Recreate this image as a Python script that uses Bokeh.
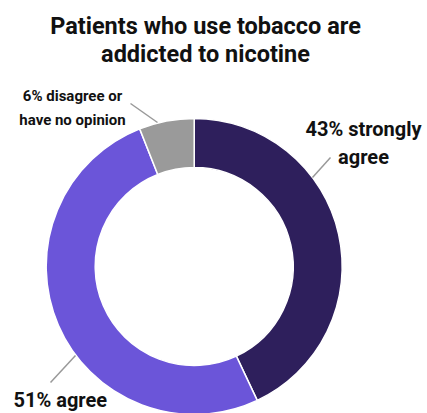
import math
from bokeh.plotting import figure
from bokeh.models import Range1d, ColumnDataSource
from bokeh.core.properties import value
from bokeh.embed import file_html
from bokeh.resources import INLINE

# ---- data ----
categories = ["strongly agree", "agree", "disagree or no opinion"]
shares = [43, 51, 6]
colors = ["#2e1f5c", "#6b55d9", "#9a9a9a"]
label_lines = [["43% strongly", "agree"], ["51% agree"], ["6% disagree or", "have no opinion"]]
title_lines = ["Patients who use tobacco are", "addicted to nicotine"]

W, H = 427, 413
p = figure(width=W, height=H, output_backend="svg", toolbar_location=None,
           x_range=Range1d(0, W), y_range=Range1d(0, H), min_border=0)
p.axis.visible = False
p.grid.visible = False
p.outline_line_color = None
p.background_fill_color = "white"

cx, cy = 193.7, H - 266
r_out, r_in = 148, 99

total = float(sum(shares))
starts, ends = [], []
cum = 0.0
for s in shares:
    a0 = math.pi / 2 - 2 * math.pi * (cum + s) / total
    a1 = math.pi / 2 - 2 * math.pi * cum / total
    starts.append(a0)
    ends.append(a1)
    cum += s

src = ColumnDataSource(dict(x=[cx] * 3, y=[cy] * 3, start=starts, end=ends, color=colors, cat=categories))
p.annular_wedge(x="x", y="y", inner_radius=r_in, outer_radius=r_out,
                start_angle="start", end_angle="end", fill_color="color",
                line_color="white", line_width=1.5, source=src)

# leader lines
p.segment(x0=[312, 130, 50], y0=[H - 177, H - 103, H - 382],
          x1=[330, 157, 75], y1=[H - 157, H - 122, H - 355],
          line_color="#999999", line_width=1.5)

font = value("Roboto")
dy = 6
# title
p.text(x=[205, 205], y=[H - 31 + dy, H - 59 + dy], text=title_lines, text_font=font,
       text_font_style="bold", text_font_size="23.5px", text_align="center",
       text_baseline="alphabetic", text_color="#111111")

# labels
p.text(x=[363, 363], y=[H - 134 + dy, H - 162 + dy], text=label_lines[0], text_font=font,
       text_font_style="bold", text_font_size="20px", text_align="center",
       text_baseline="alphabetic", text_color="#111111")
p.text(x=[13], y=[H - 405 + dy], text=label_lines[1], text_font=font,
       text_font_style="bold", text_font_size="20px", text_align="left",
       text_baseline="alphabetic", text_color="#111111")
p.text(x=[72, 72], y=[H - 101 + dy, H - 125 + dy], text=label_lines[2], text_font=font,
       text_font_style="bold", text_font_size="15px", text_align="center",
       text_baseline="alphabetic", text_color="#111111")

open("out.html", "w").write(file_html(p, INLINE))
